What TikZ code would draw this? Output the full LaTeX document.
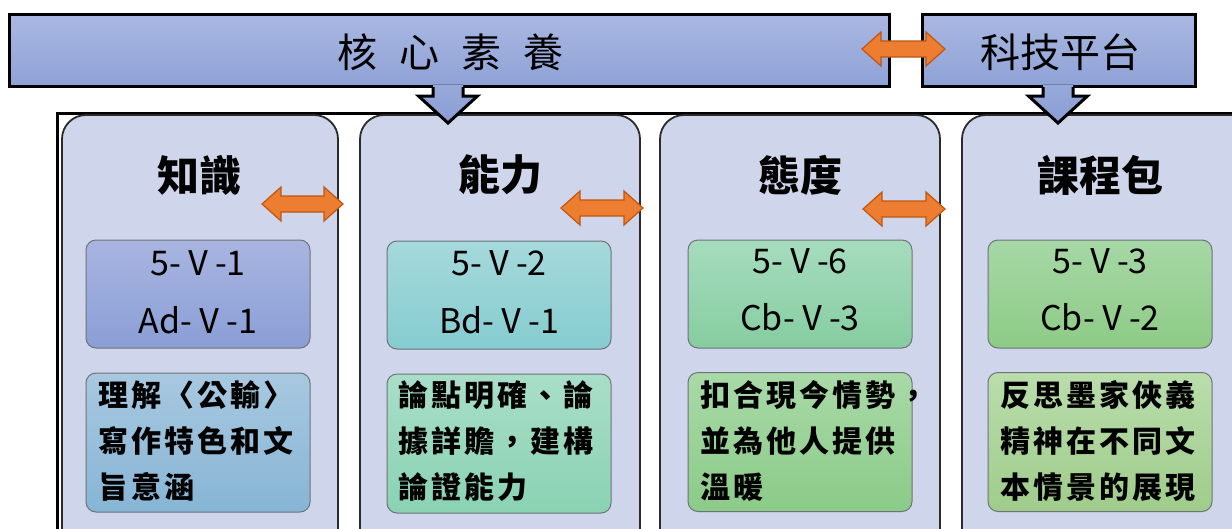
\documentclass[tikz,border=0pt]{standalone}
\usepackage{fontspec}
\setmainfont{Noto Sans CJK TC}
\newfontfamily\cjkls{Noto Sans CJK TC}[LetterSpace=10]
\definecolor{bannerTop}{HTML}{AAB8E2}
\definecolor{bannerBot}{HTML}{8FA2D6}
\definecolor{colFill}{HTML}{CFD5EA}
\definecolor{colEdge}{HTML}{2B2B2B}
\definecolor{boxEdge}{HTML}{6E7378}
\definecolor{orFill}{HTML}{ED7D31}
\definecolor{orEdge}{HTML}{C0560F}
\definecolor{aT}{HTML}{A9B5E0}\definecolor{aB}{HTML}{8A9ED6}
\definecolor{bT}{HTML}{A8C8E0}\definecolor{bB}{HTML}{87B5D5}
\definecolor{cT}{HTML}{A6D9DB}\definecolor{cB}{HTML}{85CCD0}
\definecolor{dT}{HTML}{A9DEC8}\definecolor{dB}{HTML}{8AD2B3}
\definecolor{eT}{HTML}{A6DCBE}\definecolor{eB}{HTML}{86CDA0}
\definecolor{fT}{HTML}{A9D9A8}\definecolor{fB}{HTML}{8BCB88}
\definecolor{gT}{HTML}{A6D8A6}\definecolor{gB}{HTML}{8ECB86}
\definecolor{hT}{HTML}{BADDAC}\definecolor{hB}{HTML}{9FCC8B}
\definecolor{arrTop}{HTML}{97A9DA}
\definecolor{arrBot}{HTML}{8A9ED6}
\newcommand\dblarrowshape[3]{% left x, right x, center y
  \draw[oarrow] (#1,#3) -- (#1+19,#3-17) -- (#1+19,#3-8) -- (#2-19,#3-8) -- (#2-19,#3-17)
    -- (#2,#3) -- (#2-19,#3+17) -- (#2-19,#3+8) -- (#1+19,#3+8) -- (#1+19,#3+17) -- cycle;}
\newcommand\downarrowshape[1]{% center x
  \fill[top color=arrTop, bottom color=arrBot] (#1-15,84.5) -- (#1+15,84.5) -- (#1+15,96) -- (#1+29.5,96) -- (#1,123)
    -- (#1-29.5,96) -- (#1-15,96) -- cycle;
  \draw[darrow] (#1+15,87) -- (#1+15,96) -- (#1+29.5,96) -- (#1,123)
    -- (#1-29.5,96) -- (#1-15,96) -- (#1-15,87);}
\tikzset{
  banner/.style={draw=black, line width=3pt, top color=bannerTop, bottom color=bannerBot, inner sep=0pt},
  colbox/.style={draw=colEdge, line width=1.8pt, fill=colFill, rounded corners=24pt, inner sep=0pt},
  codebox/.style={draw=boxEdge, line width=1pt, rounded corners=10pt, inner sep=0pt,
     minimum width=224pt, minimum height=108pt},
  descbox/.style={draw=boxEdge, line width=1pt, rounded corners=10pt, inner sep=0pt,
     minimum width=224pt, minimum height=139pt},
  oarrow/.style={fill=orFill, draw=orEdge, line width=1.2pt, line join=miter},
  darrow/.style={draw=black, line width=3pt, line join=miter},
  titletext/.style={font=\fontsize{42}{46}\selectfont\bfseries, inner sep=0pt},
  codetext/.style={font=\fontsize{34}{38}\selectfont, inner sep=0pt},
  desctext/.style={font=\cjkls\fontsize{30}{34}\selectfont\bfseries, inner sep=0pt, anchor=west},
  bantext/.style={font=\fontsize{40}{44}\selectfont, inner sep=0pt}
}
\begin{document}
\begin{tikzpicture}[x=1pt,y=-1pt]
\useasboundingbox (0,0) rectangle (1232,528);
\clip (0,0) rectangle (1232,528);
\fill[white] (0,0) rectangle (1232,528);
% frame lines
\draw[line width=3pt] (57,600) -- (57,113) -- (1260,113);
% columns
\node[colbox, minimum width=276pt, minimum height=445pt] (c1) at (200,337.5) {};
\node[colbox, minimum width=280pt, minimum height=445pt] (c2) at (500,337.5) {};
\node[colbox, minimum width=280pt, minimum height=445pt] (c3) at (800,337.5) {};
\node[colbox, minimum width=300pt, minimum height=445pt] (c4) at (1112,337.5) {};
% banners
\node[banner, minimum width=880pt, minimum height=72pt] (core) at (449,50) {};
\node[bantext] (coret) at (450,52) {核\hspace{22pt}心\hspace{22pt}素\hspace{22pt}養};
\node[banner, minimum width=273pt, minimum height=72pt] (tech) at (1058.5,50) {};
\node[bantext] (techt) at (1060,52) {科技平台};
% down arrows
\downarrowshape{448}
\downarrowshape{1058}
% orange arrows
\dblarrowshape{862}{945}{49}
\dblarrowshape{262}{343}{204}
\dblarrowshape{561}{643}{208}
\dblarrowshape{863}{945}{209}
% titles
\node[titletext] (t1) at (199,175) {知識};
\node[titletext] (t2) at (500,175) {能力};
\node[titletext] (t3) at (800,175) {態度};
\node[titletext] (t4) at (1100,175) {課程包};
% code boxes
\node[codebox, top color=aT, bottom color=aB] (k1) at (198,294) {};
\node[codebox, top color=cT, bottom color=cB] (k2) at (499,295) {};
\node[codebox, top color=eT, bottom color=eB] (k3) at (800,294) {};
\node[codebox, top color=gT, bottom color=gB] (k4) at (1100,294) {};
\node[codetext] at (198,263) {5-Ⅴ-1};
\node[codetext] at (198,320) {Ad-Ⅴ-1};
\node[codetext] at (499,263) {5-Ⅴ-2};
\node[codetext] at (499,320) {Bd-Ⅴ-1};
\node[codetext] at (800,261) {5-Ⅴ-6};
\node[codetext] at (800,317) {Cb-Ⅴ-3};
\node[codetext] at (1100,261) {5-Ⅴ-3};
\node[codetext] at (1100,317) {Cb-Ⅴ-2};
% description boxes
\node[descbox, top color=bT, bottom color=bB] (d1) at (198,442.5) {};
\node[descbox, top color=dT, bottom color=dB] (d2) at (499,443.5) {};
\node[descbox, top color=fT, bottom color=fB] (d3) at (800,442) {};
\node[descbox, top color=hT, bottom color=hB] (d4) at (1100,442) {};
\node[desctext] at (98,395) {理解〈公輸〉};
\node[desctext] at (98,441) {寫作特色和文};
\node[desctext] at (98,487) {旨意涵};
\node[desctext] at (398,395) {論點明確、論};
\node[desctext] at (398,441) {據詳贍，建構};
\node[desctext] at (398,487) {論證能力};
\node[desctext] at (700,395) {扣合現今情勢，};
\node[desctext] at (700,441) {並為他人提供};
\node[desctext] at (700,487) {溫暖};
\node[desctext] at (1000,395) {反思墨家俠義};
\node[desctext] at (1000,441) {精神在不同文};
\node[desctext] at (1000,487) {本情景的展現};
\end{tikzpicture}
\end{document}
